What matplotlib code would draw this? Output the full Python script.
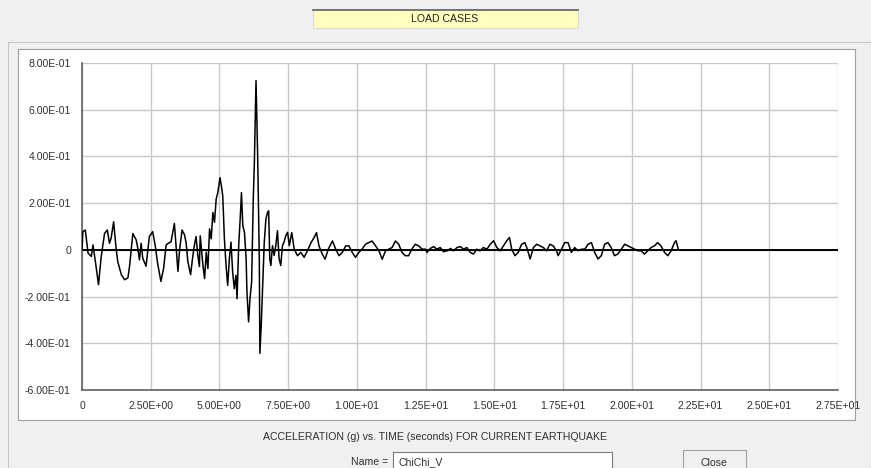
import matplotlib
matplotlib.use("Agg")
import matplotlib.pyplot as plt
from matplotlib.patches import Rectangle
from matplotlib.ticker import FixedLocator, FuncFormatter

# time history (s, g)
t_sec = [0.00, 0.03, 0.12, 0.22, 0.34, 0.40, 0.52, 0.60, 0.70, 0.82, 0.92, 1.00, 1.06, 1.15,
         1.24, 1.30, 1.43, 1.55, 1.67, 1.73, 1.85, 1.97, 2.03, 2.09, 2.15, 2.21, 2.33, 2.45,
         2.57, 2.66, 2.75, 2.87, 2.97, 3.06, 3.14, 3.24, 3.36,
         3.43, 3.49, 3.55, 3.64, 3.73, 3.79, 3.85, 3.95, 4.03, 4.09, 4.15, 4.21, 4.27,
         4.30, 4.40, 4.46, 4.52, 4.58, 4.64, 4.70, 4.76, 4.82, 4.88, 4.94, 5.02, 5.07, 5.12,
         5.18, 5.24, 5.30, 5.36, 5.42, 5.48, 5.54, 5.60, 5.64, 5.70, 5.76, 5.80, 5.85, 5.91,
         5.97, 6.00, 6.06, 6.11, 6.17, 6.23, 6.27, 6.33, 6.39, 6.45, 6.47, 6.52, 6.57, 6.63,
         6.69, 6.75, 6.79, 6.83, 6.87, 6.93, 6.99, 7.05, 7.11, 7.17, 7.23, 7.29, 7.35, 7.41,
         7.48, 7.54,
         7.63, 7.72, 7.84, 7.96, 8.08, 8.20, 8.33, 8.44, 8.53, 8.62, 8.74, 8.84, 8.96, 9.11,
         9.23, 9.35, 9.47, 9.59, 9.71, 9.83, 9.95, 10.07, 10.19, 10.31, 10.43, 10.55, 10.68,
         10.80, 10.92, 11.04, 11.16, 11.28, 11.40, 11.52, 11.64, 11.76, 11.88, 12.00, 12.12,
         12.25, 12.37, 12.49,
         12.55, 12.67, 12.79, 12.91, 13.03, 13.15, 13.28, 13.40, 13.52, 13.64, 13.76, 13.88,
         14.00, 14.12, 14.24, 14.36, 14.48, 14.60, 14.73, 14.85, 14.97, 15.09, 15.21, 15.33,
         15.45, 15.55, 15.63, 15.75, 15.87, 15.99, 16.11, 16.20, 16.30, 16.42, 16.54, 16.66,
         16.78, 16.90, 17.02, 17.14, 17.26,
         17.32, 17.44, 17.56, 17.68, 17.80, 17.92, 18.04, 18.17, 18.29, 18.41, 18.53, 18.65,
         18.77, 18.89, 19.01, 19.13, 19.25, 19.37, 19.49, 19.62, 19.74, 19.86, 19.98, 20.10,
         20.22, 20.34, 20.46, 20.58, 20.70, 20.82, 20.94, 21.06, 21.19, 21.31, 21.43, 21.55,
         21.61, 21.69]
accel_g = [0.000, 0.078, 0.085, -0.014, -0.028, 0.021, -0.078, -0.149, -0.028, 0.070, 0.085,
           0.028, 0.050, 0.120, 0.007, -0.050, -0.106, -0.128, -0.120, -0.070, 0.070, 0.043,
           0.007, -0.043, 0.028, -0.036, -0.070, 0.057, 0.078, 0.021, -0.057, -0.135, -0.078,
           0.021, 0.028, 0.035, 0.113,
           0.000, -0.092, 0.000, 0.085, 0.064, 0.028, -0.050, -0.106, -0.028, 0.021, 0.057,
           -0.021, -0.071,
           0.060, -0.067, -0.123, -0.010, -0.080, 0.090, 0.047, 0.160, 0.118, 0.217, 0.245,
           0.309, 0.274, 0.231, 0.047, -0.067, -0.152, -0.038, 0.033, -0.095, -0.166, -0.109,
           -0.209, 0.018, 0.146, 0.245, 0.104, 0.075, -0.038, -0.180, -0.308, -0.209, -0.138,
           0.217, 0.373, 0.725, 0.400, -0.038, -0.443, -0.322, -0.166, 0.033, 0.132, 0.160,
           0.167, -0.038, -0.067, 0.018, -0.024, 0.018, 0.082, -0.038, -0.067, 0.018, 0.033,
           0.060, 0.075, 0.018,
           0.074, 0.003, -0.025, -0.011, -0.032, -0.004, 0.031, 0.052, 0.074, 0.017, -0.018,
           -0.040, 0.003, 0.038, 0.003, -0.025, -0.011, 0.017, 0.017, -0.011, -0.032, -0.011,
           0.003, 0.024, 0.031, 0.038, 0.017, -0.004, -0.040, -0.004, 0.003, 0.010, 0.038,
           0.024, -0.011, -0.025, -0.025, 0.003, 0.024, 0.017, 0.003, 0.003,
           -0.011, 0.006, 0.014, 0.003, 0.010, -0.008, -0.004, 0.006, -0.004, 0.010, 0.014,
           0.003, 0.010, -0.011, -0.018, 0.003, -0.004, 0.010, 0.003, 0.024, 0.039, 0.010,
           -0.004, 0.017, 0.039, 0.053, 0.003, -0.025, -0.011, 0.024, 0.031, 0.003, -0.039,
           0.010, 0.024, 0.017, 0.010, -0.004, 0.024, 0.017, -0.004,
           -0.025, 0.003, 0.031, 0.031, -0.011, 0.010, -0.004, 0.003, 0.003, 0.024, 0.031,
           -0.011, -0.039, -0.025, 0.024, 0.031, 0.010, -0.025, -0.018, 0.003, 0.024, 0.017,
           0.010, 0.003, -0.004, -0.004, -0.018, -0.004, 0.010, 0.017, 0.031, 0.017, -0.011,
           -0.025, -0.004, 0.031, 0.039, 0.003]

x_ticks = [0, 2.5, 5, 7.5, 10, 12.5, 15, 17.5, 20, 22.5, 25, 27.5]
y_ticks = [-0.6, -0.4, -0.2, 0, 0.2, 0.4, 0.6, 0.8]

W, H = 871, 468
FS = 7.6


def px(x0, y0, x1, y1):
    # pixel box (top-left origin) -> figure fraction rect
    return (x0 / W, 1 - y1 / H, (x1 - x0) / W, (y1 - y0) / H)


def sci(v, pos=None):
    if abs(v) < 1e-9:
        return "0"
    return "%.2E" % v


fig = plt.figure(figsize=(W / 100, H / 100), dpi=100)
fig.patch.set_facecolor("#f0f0f0")
plt.rcParams["font.family"] = ["Liberation Sans", "DejaVu Sans"]

# dialog chrome
def box(rect, fc, ec="none", lw=0.8):
    x, y, w, h = px(*rect)
    fig.patches.append(Rectangle((x, y), w, h, transform=fig.transFigure,
                                 facecolor=fc, edgecolor=ec, linewidth=lw, zorder=-10))

box((8, 42, 871, 468), "#f0f0f0", "#c8c8c8")
box((18, 49, 855, 420), "white", "#a0a0a0")
box((313, 9, 578, 28), "#ffffc0", "#d8d8d8")
fig.add_artist(plt.Line2D([313 / W, 578 / W], [1 - 9.5 / H, 1 - 9.5 / H],
                          transform=fig.transFigure, color="#606060", lw=1.2))
fig.text(445 / W, 1 - 18.5 / H, "LOAD CASES", ha="center", va="center", fontsize=FS, color="#202020")

fig.text(435 / W, 1 - 437 / H, "ACCELERATION (g) vs. TIME (seconds) FOR CURRENT EARTHQUAKE",
         ha="center", va="center", fontsize=FS, color="#303030")
fig.text(388 / W, 1 - 462 / H, "Name =", ha="right", va="center", fontsize=FS, color="#303030")
box((393, 452, 612, 475), "white", "#7a7a7a")
fig.text(398 / W, 1 - 462 / H, "ChiChi_V", ha="left", va="center", fontsize=FS, color="#303030")
box((683, 450, 746, 475), "#f0f0f0", "#a0a0a0")
fig.text(714 / W, 1 - 463 / H, "Close", ha="center", va="center", fontsize=FS, color="#303030")

# plot area
ax = fig.add_axes(px(82, 63, 838, 390))
ax.set_zorder(5)
ax.set_facecolor("white")
ax.set_xlim(0, 27.5)
ax.set_ylim(-0.6, 0.8)
ax.xaxis.set_major_locator(FixedLocator(x_ticks))
ax.yaxis.set_major_locator(FixedLocator(y_ticks))
ax.xaxis.set_major_formatter(FuncFormatter(sci))
ax.yaxis.set_major_formatter(FuncFormatter(sci))
ax.grid(True, color="#c8c8c8", linewidth=1.0)
ax.set_axisbelow(True)
ax.tick_params(length=0, labelsize=FS, colors="#303030")
ax.tick_params(axis="y", pad=8)
ax.tick_params(axis="x", pad=8)
for s in ["top", "right"]:
    ax.spines[s].set_visible(False)
for s in ["left", "bottom"]:
    ax.spines[s].set_color("#606060")
    ax.spines[s].set_linewidth(1.2)

ax.axhline(0, color="black", linewidth=1.4, zorder=2)
ax.plot(t_sec, accel_g, color="black", linewidth=1.1, zorder=3)

fig.savefig("out.png", dpi=100, facecolor=fig.get_facecolor())
